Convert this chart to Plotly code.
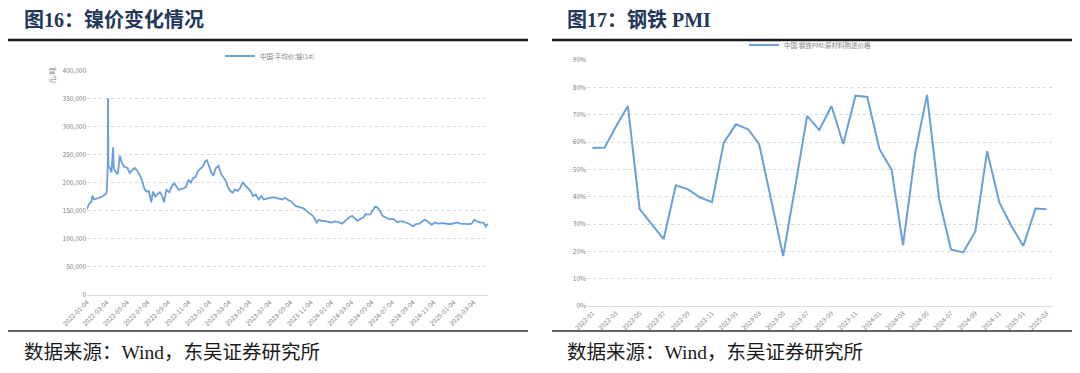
import plotly.graph_objects as go

# ---------------- Left chart data: nickel price (yuan/ton) ----------------
nickel_dates = [
    "2022-01-04", "2022-01-10", "2022-01-17", "2022-01-20", "2022-01-25", "2022-02-07", "2022-02-18",
    "2022-03-01", "2022-03-04", "2022-03-07", "2022-03-08", "2022-03-09", "2022-03-14", "2022-03-18",
    "2022-03-23", "2022-03-25", "2022-03-30", "2022-04-06", "2022-04-12", "2022-04-18", "2022-04-26",
    "2022-05-05", "2022-05-12", "2022-05-20", "2022-05-27", "2022-06-02", "2022-06-10", "2022-06-17",
    "2022-06-24", "2022-07-01", "2022-07-08", "2022-07-15", "2022-07-20", "2022-07-27", "2022-08-03",
    "2022-08-10", "2022-08-16", "2022-08-22", "2022-08-29", "2022-09-07", "2022-09-14", "2022-09-22",
    "2022-09-28", "2022-10-05", "2022-10-13", "2022-10-20", "2022-10-27", "2022-11-03", "2022-11-10",
    "2022-11-17", "2022-11-24", "2022-12-01", "2022-12-09", "2022-12-16", "2022-12-23", "2022-12-28",
    "2023-01-04", "2023-01-10", "2023-01-16", "2023-01-24", "2023-02-01", "2023-02-08", "2023-02-15",
    "2023-02-22", "2023-03-01", "2023-03-08", "2023-03-15", "2023-03-22", "2023-03-29", "2023-04-06",
    "2023-04-14", "2023-04-20", "2023-04-27", "2023-05-08", "2023-05-15", "2023-05-23", "2023-06-01",
    "2023-06-09", "2023-06-16", "2023-06-26", "2023-07-05", "2023-07-14", "2023-07-24", "2023-08-02",
    "2023-08-10", "2023-08-18", "2023-08-25", "2023-09-05", "2023-09-12", "2023-09-20", "2023-10-09",
    "2023-10-16", "2023-10-24", "2023-11-01", "2023-11-10", "2023-11-17", "2023-11-21", "2023-11-28",
    "2023-12-06", "2023-12-14", "2023-12-22", "2024-01-04", "2024-01-15", "2024-01-24", "2024-02-05",
    "2024-02-19", "2024-02-26", "2024-03-06", "2024-03-13", "2024-03-22", "2024-03-29", "2024-04-08",
    "2024-04-16", "2024-04-23", "2024-04-30", "2024-05-08", "2024-05-13", "2024-05-20", "2024-05-28",
    "2024-06-05", "2024-06-13", "2024-06-21", "2024-07-01", "2024-07-09", "2024-07-19", "2024-07-26",
    "2024-08-05", "2024-08-15", "2024-08-26", "2024-09-04", "2024-09-12", "2024-09-23", "2024-10-08",
    "2024-10-15", "2024-10-22", "2024-10-30", "2024-11-08", "2024-11-18", "2024-12-02", "2024-12-12",
    "2024-12-23", "2025-01-06", "2025-01-14", "2025-01-23", "2025-02-05", "2025-02-17", "2025-02-26",
    "2025-03-06", "2025-03-14", "2025-03-25", "2025-04-03", "2025-04-09", "2025-04-15",
]
nickel_price = [
    153000, 162000, 166000, 177000, 170000, 172000, 175000,
    180000, 182000, 230000, 350000, 230000, 225000, 218000,
    263000, 225000, 220000, 215000, 248000, 235000, 228000,
    226000, 217000, 223000, 226000, 222000, 214000, 205000,
    190000, 184000, 185000, 165000, 184000, 175000, 180000,
    183000, 177000, 165000, 187000, 183000, 193000, 199000,
    193000, 187000, 189000, 190000, 193000, 205000, 200000,
    208000, 210000, 220000, 225000, 229000, 238000, 240000,
    229000, 218000, 212000, 226000, 230000, 216000, 210000,
    204000, 192000, 185000, 182000, 188000, 185000, 190000,
    200000, 196000, 191000, 185000, 176000, 179000, 170000,
    176000, 170000, 172000, 173000, 174000, 173000, 171000,
    170000, 173000, 170000, 167000, 162000, 158000, 155000,
    153000, 148000, 144000, 141000, 134000, 129000, 134000,
    132000, 132000, 131000, 129000, 131000, 130000, 127000,
    135000, 138000, 141000, 137000, 132000, 135000, 138000,
    144000, 143000, 144000, 152000, 157000, 156000, 150000,
    141000, 138000, 136000, 135000, 135000, 129000, 131000,
    131000, 129000, 126000, 122000, 126000, 127000, 134000,
    132000, 129000, 125000, 129000, 127000, 128000, 127000,
    126000, 128000, 129000, 127000, 126000, 126000, 127000,
    134000, 131000, 129000, 129000, 122000, 127000,
]
nickel_name = "中国:平均价:镍(1#)"
nickel_unit = "元/吨"

# ---------------- Right chart data: steel PMI raw-material purchase price ----------------
pmi_months = [
    "2022-01-01", "2022-02-01", "2022-03-01", "2022-04-01", "2022-05-01", "2022-06-01",
    "2022-07-01", "2022-08-01", "2022-09-01", "2022-10-01", "2022-11-01", "2022-12-01",
    "2023-01-01", "2023-02-01", "2023-03-01", "2023-04-01", "2023-05-01", "2023-06-01",
    "2023-07-01", "2023-08-01", "2023-09-01", "2023-10-01", "2023-11-01", "2023-12-01",
    "2024-01-01", "2024-02-01", "2024-03-01", "2024-04-01", "2024-05-01", "2024-06-01",
    "2024-07-01", "2024-08-01", "2024-09-01", "2024-10-01", "2024-11-01", "2024-12-01",
    "2025-01-01", "2025-02-01", "2025-03-01",
]
pmi_pct = [
    57.8, 58.0, 65.5, 73.2, 35.5, 30.0, 24.5, 44.2, 42.7, 39.8, 38.0, 59.8,
    66.5, 64.7, 59.2, 38.5, 18.3, 44.0, 69.6, 64.4, 73.2, 59.3, 77.0, 76.5,
    57.5, 49.8, 22.3, 56.0, 77.3, 39.0, 20.7, 19.6, 27.4, 56.7, 37.9, 29.5,
    22.0, 35.7, 35.4,
]
pmi_name = "中国:钢铁PMI:原材料购进价格"

titles = ["图16：镍价变化情况", "图17：钢铁 PMI"]
source_text = "数据来源：Wind，东吴证券研究所"

# the page body adds an 8px margin, so the figure is drawn 8px smaller and positions are offset
OFF = 8
W, H = 1080 - OFF, 373 - OFF
LINE_COLOR = "#6A9FD8"
GRID = "#d9d9d9"
TICK_FONT = dict(family="Noto Sans CJK SC, Noto Sans, sans-serif", size=6.5, color="#7f7f7f")


def px_x(v):
    return (v - OFF) / W


def px_y(v):
    return 1 - (v - OFF) / H


fig = go.Figure()
fig.add_trace(go.Scatter(
    x=nickel_dates, y=nickel_price, mode="lines", name=nickel_name,
    line=dict(color=LINE_COLOR, width=1.8), xaxis="x", yaxis="y", legend="legend",
))
fig.add_trace(go.Scatter(
    x=pmi_months, y=[v / 100 for v in pmi_pct], mode="lines", name=pmi_name,
    line=dict(color=LINE_COLOR, width=2), xaxis="x2", yaxis="y2", legend="legend2",
))

common_x = dict(
    type="date", showgrid=False, showline=True, linecolor=GRID, linewidth=1,
    tickangle=-45, tickfont=TICK_FONT, ticks="", zeroline=False, dtick="M2",
    automargin=False,
)
common_y = dict(
    showgrid=True, gridcolor=GRID, griddash="dot", gridwidth=1, showline=False,
    zeroline=False, tickfont=TICK_FONT, ticks="", automargin=False,
)

fig.update_layout(
    template="none",
    width=W, height=H, autosize=False,
    margin=dict(l=0, r=0, t=0, b=0, pad=0, autoexpand=False),
    paper_bgcolor="white", plot_bgcolor="white",
    xaxis=dict(common_x, domain=[px_x(87), px_x(488)], anchor="y",
               range=["2022-01-04", "2025-04-16"], tick0="2022-01-04", tickformat="%Y-%m-%d"),
    yaxis=dict(common_y, domain=[px_y(295), px_y(70)], anchor="x",
               range=[0, 400500], dtick=50000, tickformat=",d"),
    xaxis2=dict(common_x, domain=[px_x(587), px_x(1052)], anchor="y2",
                range=["2021-12-18", "2025-03-15"], tick0="2022-01-01", tickformat="%Y-%m"),
    yaxis2=dict(common_y, domain=[px_y(306), px_y(60)], anchor="x2",
                range=[0, 0.9005], dtick=0.1, tickformat=".0%"),
    legend=dict(x=px_x(270), y=px_y(56), xanchor="center", yanchor="middle",
                orientation="h", bgcolor="rgba(0,0,0,0)", itemwidth=30,
                font=dict(family="Noto Sans CJK SC", size=6.5, color="#7f7f7f")),
    legend2=dict(x=px_x(810), y=px_y(45), xanchor="center", yanchor="middle",
                 orientation="h", bgcolor="rgba(0,0,0,0)", itemwidth=30,
                 font=dict(family="Noto Sans CJK SC", size=6.5, color="#7f7f7f")),
    showlegend=True,
)

# unit label of the left y axis, near the top of the axis
fig.add_annotation(
    x=px_x(52), y=px_y(76), xref="paper", yref="paper", xanchor="center", yanchor="middle",
    text=nickel_unit, textangle=-90, showarrow=False,
    font=dict(family="Noto Sans CJK SC", size=7, color="#7f7f7f"),
)

# Titles, separator rules and source notes for both panels
panels = [(8, 528, 22), (552, 1073, 565)]
for (x0, x1, tx), title in zip(panels, titles):
    fig.add_annotation(
        x=px_x(tx), y=px_y(20), xref="paper", yref="paper", xanchor="left", yanchor="middle",
        text=f"<b>{title}</b>", showarrow=False,
        font=dict(family="Liberation Serif, Noto Sans CJK SC, serif", size=20, color="#22375A"),
    )
    fig.add_shape(type="line", xref="paper", yref="paper",
                  x0=px_x(x0), x1=px_x(x1), y0=px_y(40), y1=px_y(40),
                  line=dict(color="#1a1a1a", width=2.5))
    fig.add_shape(type="line", xref="paper", yref="paper",
                  x0=px_x(x0), x1=px_x(x1), y0=px_y(331), y1=px_y(331),
                  line=dict(color="#333333", width=1.5))
    fig.add_annotation(
        x=px_x(tx), y=px_y(352), xref="paper", yref="paper", xanchor="left", yanchor="middle",
        text=source_text, showarrow=False,
        font=dict(family="Liberation Serif, Noto Sans CJK SC, serif", size=19.5, color="#1a1a1a"),
    )

# faint shadow on the far right edge
fig.add_shape(type="rect", xref="paper", yref="paper", x0=px_x(1075), x1=1, y0=0, y1=1,
              fillcolor="#eeeeee", line=dict(width=0), layer="below")

fig.write_html("out.html")
